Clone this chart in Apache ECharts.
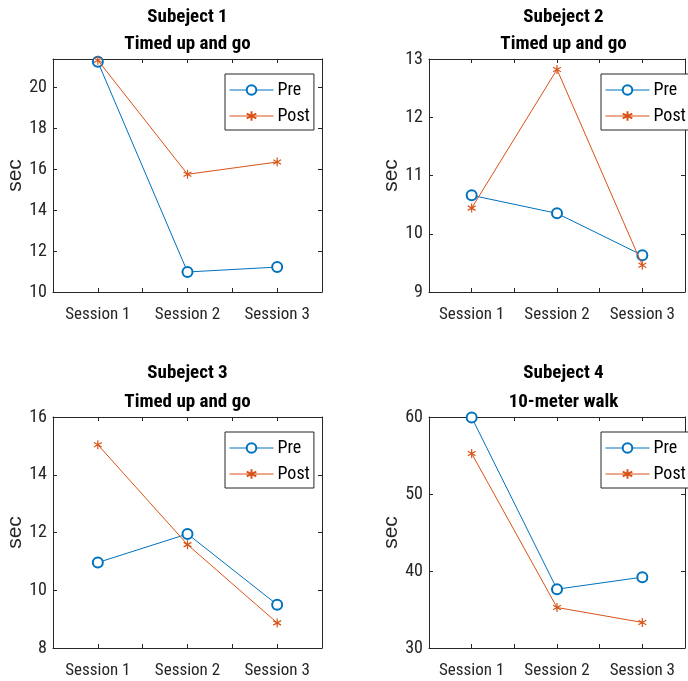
<!DOCTYPE html>
<html>
<head>
<meta charset="utf-8">
<script src="https://cdn.jsdelivr.net/npm/echarts@6/dist/echarts.min.js"></script>
<style>
html,body{margin:0;padding:0;background:#fff;}
#c{width:688px;height:681px;}
</style>
</head>
<body>
<div id="c"></div>
<script>
// ---- data ----
const categories = ['Session 1', 'Session 2', 'Session 3'];
const seriesNames = ['Pre', 'Post'];
const titles1 = ['Subeject 1', 'Subeject 2', 'Subeject 3', 'Subeject 4'];
const titles2 = ['Timed up and go', 'Timed up and go', 'Timed up and go', '10-meter walk'];
const yLabel = 'sec';
const pre1 = [21.26, 10.98, 11.22];
const post1 = [21.34, 15.76, 16.36];
const pre2 = [10.66, 10.35, 9.63];
const post2 = [10.44, 12.82, 9.46];
const pre3 = [10.96, 11.95, 9.50];
const post3 = [15.04, 11.58, 8.87];
const pre4 = [59.95, 37.64, 39.20];
const post4 = [55.26, 35.26, 33.32];
const yMin = [10, 9, 8, 30];
const yMax = [21.4, 13, 16, 60];
const yStep = [2, 1, 2, 10];

// ---- layout / style ----
const FONT = "'Roboto Condensed', 'Liberation Sans', Arial, sans-serif";
const AXC = '#262626';
const BLUE = '#0072BD';
const ORANGE = '#D95319';
const ASTER = 'path://M5,0L5,10M0.67,2.5L9.33,7.5M0.67,7.5L9.33,2.5';
const grids = [
  {left: 53, top: 59, width: 269, height: 233},
  {left: 429, top: 59, width: 269, height: 233},
  {left: 53, top: 417, width: 269, height: 231},
  {left: 429, top: 417, width: 269, height: 231}
];
const titleTop = [3, 3, 358, 358];
const titleLH = [27.5, 27.5, 29.5, 29.5];
const legendPos = [
  {left: 225, top: 74}, {left: 601, top: 74},
  {left: 225, top: 432}, {left: 601, top: 432}
];
const preData = [pre1, pre2, pre3, pre4];
const postData = [post1, post2, post3, post4];

const option = {
  animation: false,
  backgroundColor: '#fff',
  grid: grids.map(g => Object.assign({containLabel: false, show: false}, g)),
  title: grids.map((g, i) => ({
    text: titles1[i] + '\n' + titles2[i],
    left: g.left + g.width / 2,
    top: titleTop[i],
    textAlign: 'center',
    padding: 0,
    textStyle: {fontFamily: FONT, fontSize: 19, fontWeight: 'bold', color: '#000', lineHeight: titleLH[i]}
  })),
  legend: grids.map((g, i) => ({
    data: seriesNames,
    orient: 'vertical',
    left: legendPos[i].left,
    top: legendPos[i].top,
    itemWidth: 44,
    itemHeight: 12,
    itemGap: 8,
    padding: [7, 4, 5, 4],
    borderColor: AXC,
    borderWidth: 1,
    backgroundColor: '#fff',
    selectedMode: false,
    lineStyle: {width: 1},
    textStyle: {fontFamily: FONT, fontSize: 18, lineHeight: 16, color: '#000', padding: [0, 0, 0, -1]}
  })),
  xAxis: [],
  yAxis: [],
  series: []
};

grids.forEach((g, i) => {
  const axisLine = {show: true, lineStyle: {color: AXC, width: 1}};
  const tick = {show: true, inside: true, length: 4, lineStyle: {color: AXC}};
  option.xAxis.push({
    type: 'value', gridIndex: i, position: 'bottom', min: 0.5, max: 3.5, interval: 0.5,
    axisLine: axisLine, axisTick: tick, splitLine: {show: false},
    axisLabel: {
      fontFamily: FONT, fontSize: 17, color: AXC, margin: 14,
      formatter: v => (Math.abs(v - Math.round(v)) < 1e-6 && v >= 1 && v <= 3) ? categories[Math.round(v) - 1] : ''
    }
  });
  option.xAxis.push({
    type: 'value', gridIndex: i, position: 'top', min: 0.5, max: 3.5, interval: 0.5,
    axisLine: axisLine, axisTick: tick, splitLine: {show: false}, axisLabel: {show: false}
  });
  option.yAxis.push({
    type: 'value', gridIndex: i, position: 'left', min: yMin[i], max: yMax[i], interval: yStep[i],
    axisLine: axisLine, axisTick: tick, splitLine: {show: false},
    name: yLabel, nameLocation: 'middle', nameRotate: 90, nameGap: 23,
    nameTextStyle: {fontFamily: "'Liberation Sans', Arial, sans-serif", fontSize: 21, color: AXC},
    axisLabel: {
      fontFamily: FONT, fontSize: 18, color: AXC, margin: 6,
      formatter: v => {
        const k = (v - yMin[i]) / yStep[i];
        return Math.abs(k - Math.round(k)) < 1e-6 ? String(v) : '';
      }
    }
  });
  option.yAxis.push({
    type: 'value', gridIndex: i, position: 'right', min: yMin[i], max: yMax[i], interval: yStep[i],
    axisLine: axisLine, axisTick: tick, splitLine: {show: false}, axisLabel: {show: false}
  });
  option.series.push({
    name: seriesNames[0], type: 'line', xAxisIndex: 2 * i, yAxisIndex: 2 * i,
    data: preData[i].map((v, k) => [k + 1, v]),
    symbol: 'emptyCircle', symbolSize: 10,
    lineStyle: {color: BLUE, width: 1},
    itemStyle: {color: BLUE, borderColor: BLUE, borderWidth: 1},
    z: 3
  });
  option.series.push({
    name: seriesNames[1], type: 'line', xAxisIndex: 2 * i, yAxisIndex: 2 * i,
    data: postData[i].map((v, k) => [k + 1, v]),
    symbol: ASTER, symbolSize: 9, symbolKeepAspect: true,
    lineStyle: {color: ORANGE, width: 1},
    itemStyle: {color: ORANGE, borderColor: ORANGE, borderWidth: 1.2},
    z: 4
  });
});

const chart = echarts.init(document.getElementById('c'), null, {renderer: 'canvas'});
chart.setOption(option);
</script>
</body>
</html>
